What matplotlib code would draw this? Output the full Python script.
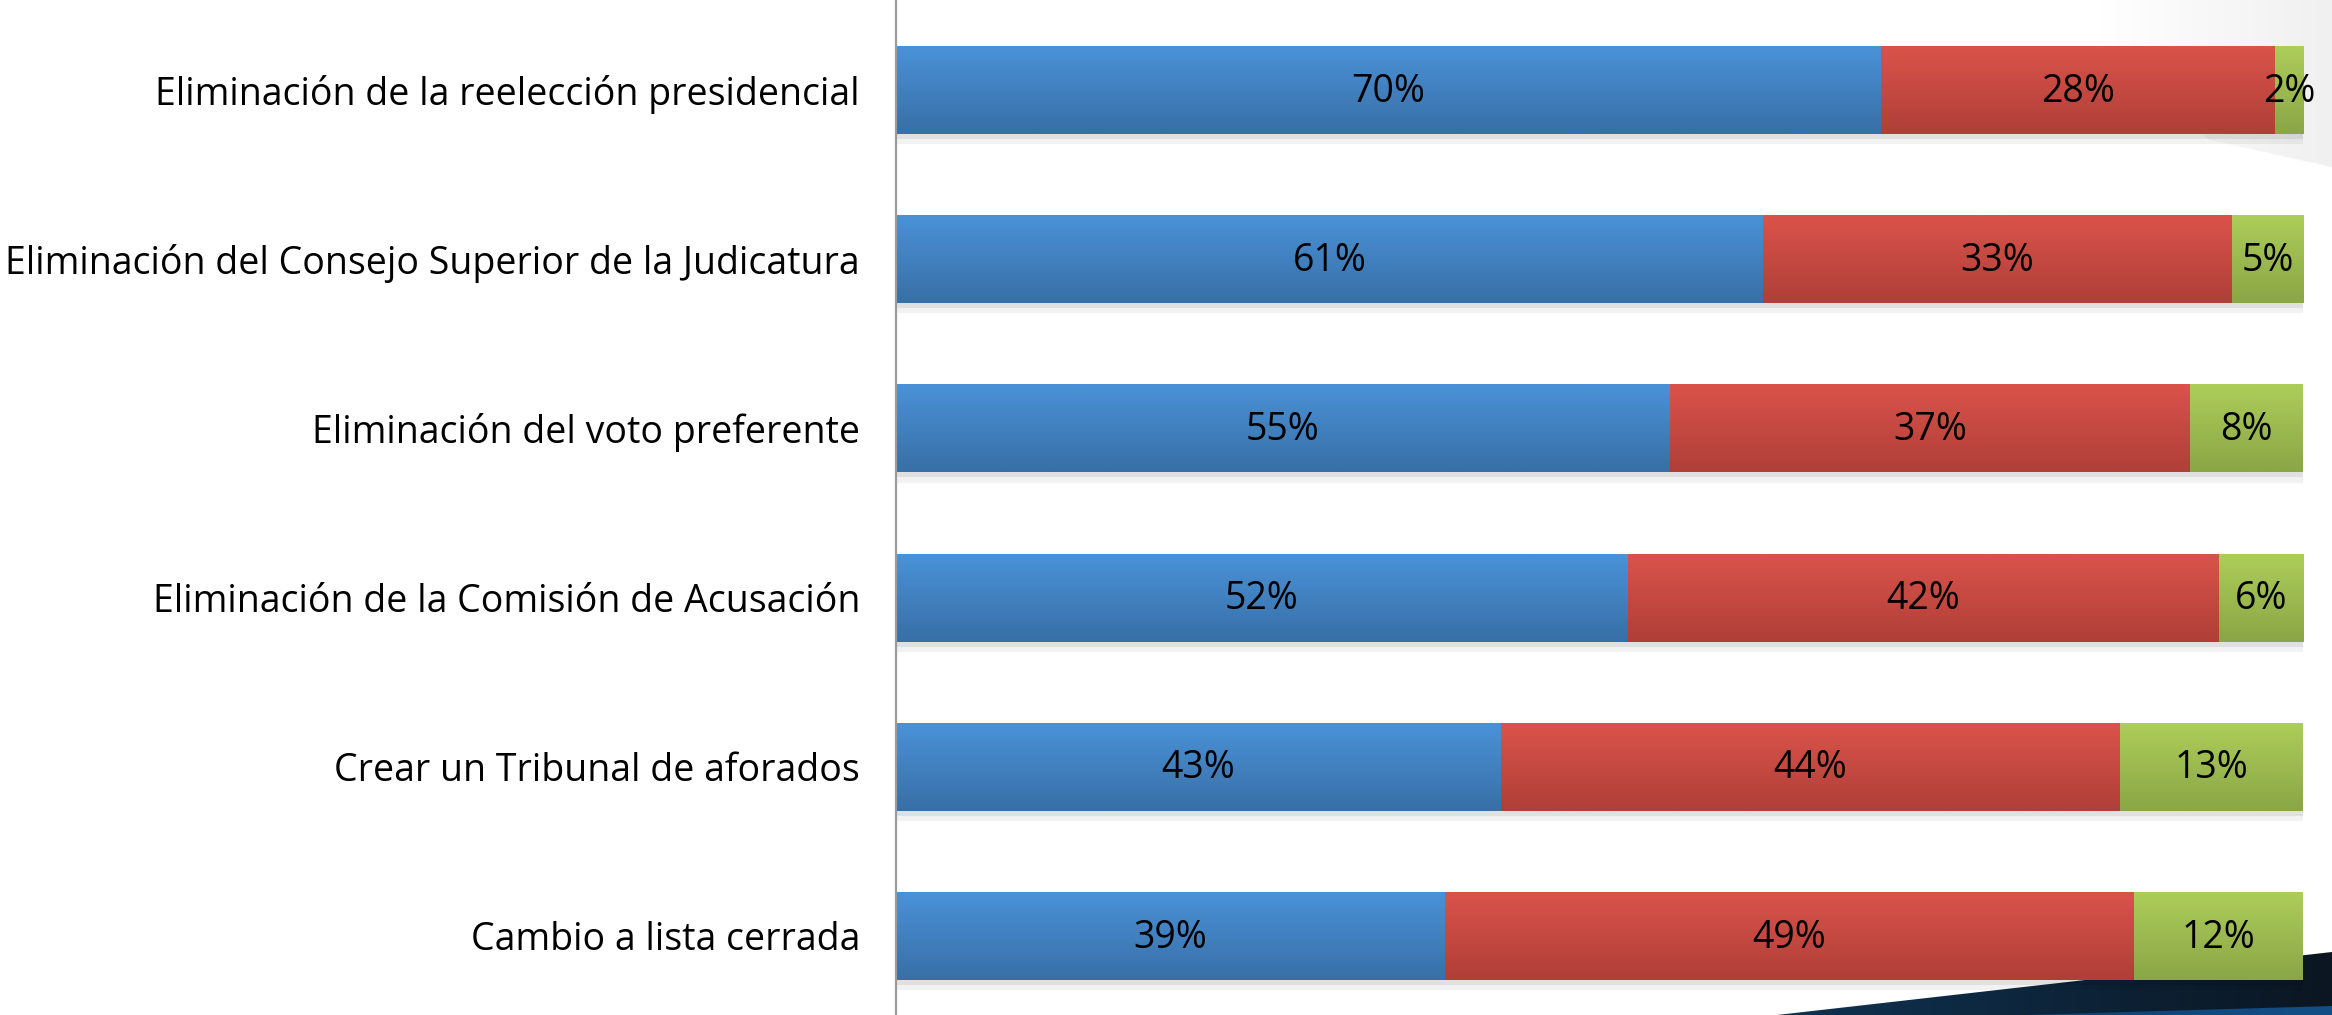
import matplotlib
matplotlib.use("Agg")
import matplotlib.pyplot as plt
import numpy as np
from matplotlib.patches import Polygon
from matplotlib.colors import to_rgb

plt.rcParams['font.family'] = ['Open Sans', 'DejaVu Sans']

categories = [
    "Eliminación de la reelección presidencial",
    "Eliminación del Consejo Superior de la Judicatura",
    "Eliminación del voto preferente",
    "Eliminación de la Comisión de Acusación",
    "Crear un Tribunal de aforados",
    "Cambio a lista cerrada",
]
favor = [70, 61, 55, 52, 43, 39]
contra = [28, 33, 37, 42, 44, 49]
nsnr = [2, 5, 8, 6, 13, 12]

series = [favor, contra, nsnr]
top_colors = ["#4A92D8", "#DA534A", "#ADCD59"]
bot_colors = ["#386FA6", "#AF3F38", "#8AA646"]

W, H = 2332, 1015
fig = plt.figure(figsize=(W / 100, H / 100), dpi=100)
fig.patch.set_facecolor("white")

# background decoration axes (pixel coordinates)
bg = fig.add_axes([0, 0, 1, 1], zorder=0)
bg.set_xlim(0, W)
bg.set_ylim(H, 0)
bg.axis("off")

def grad_poly(ax, pts, c_left, c_right, horizontal=True):
    poly = Polygon(pts, closed=True, facecolor="none", edgecolor="none")
    ax.add_patch(poly)
    xs = [p[0] for p in pts]
    ys = [p[1] for p in pts]
    a = np.array(to_rgb(c_left))
    b = np.array(to_rgb(c_right))
    t = np.linspace(0, 1, 128)
    g = a[None, :] * (1 - t[:, None]) + b[None, :] * t[:, None]
    img = g[None, :, :] if horizontal else g[:, None, :]
    im = ax.imshow(img, extent=(min(xs), max(xs), max(ys), min(ys)), origin="upper",
                   aspect="auto", interpolation="bilinear")
    im.set_clip_path(poly)

grad_poly(bg, [(2100, 0), (2332, 0), (2332, 167), (2210, 140), (2100, 60)],
          "#FFFFFF", "#F0F0F0")
grad_poly(bg, [(1777, 1015), (2332, 952), (2332, 1015)], "#0F3352", "#0B1622")
grad_poly(bg, [(2023, 1015), (2332, 1006), (2332, 1015)], "#0F4273", "#134F86")

ax = fig.add_axes([896 / W, 0, 1407 / W, 1], zorder=1)
ax.patch.set_alpha(0)
ax.set_xlim(0, 100)
ax.set_ylim(5.467, -0.532)

y = np.arange(len(categories))
totals = np.sum(np.array(series, dtype=float), axis=0)
bar_h = 0.52
left = np.zeros(len(categories))
for s, vals in enumerate(series):
    vals = np.array(vals, dtype=float)
    shares = vals / totals * 100
    bars = ax.barh(y, shares, left=left, height=bar_h, color=top_colors[s],
                   edgecolor="none", zorder=2)
    c1 = np.array(to_rgb(top_colors[s]))
    c2 = np.array(to_rgb(bot_colors[s]))
    t = np.linspace(0, 1, 64)[:, None]
    grad = (c1 * (1 - t) + c2 * t)[:, None, :]
    for b in bars:
        x0, yb = b.get_x(), b.get_y()
        w, h = b.get_width(), b.get_height()
        im = ax.imshow(grad, extent=(x0, x0 + w, yb + h, yb), origin="upper",
                       aspect="auto", zorder=3, interpolation="bilinear")
        im.set_clip_path(b)
        sh = plt.Rectangle((x0, yb + h), w, 0.03, facecolor="#000000", alpha=0.12,
                           edgecolor="none", zorder=1)
        ax.add_patch(sh)
        sh2 = plt.Rectangle((x0, yb + h + 0.03), w, 0.03, facecolor="#000000",
                            alpha=0.05, edgecolor="none", zorder=1)
        ax.add_patch(sh2)
    for i, v in enumerate(vals):
        ax.text(left[i] + shares[i] / 2, y[i] + 0.01, f"{int(v)}%", ha="center",
                va="center", fontsize=27, color="black", zorder=5)
    left += shares

ax.set_yticks(y)
ax.set_yticklabels(categories, fontsize=27)
ax.tick_params(axis="y", length=0, pad=26)
ax.set_xticks([])
for sp in ["top", "right", "bottom"]:
    ax.spines[sp].set_visible(False)
ax.spines["left"].set_color("#9A9A9A")
ax.spines["left"].set_linewidth(1.6)
ax.spines["left"].set_zorder(6)

fig.savefig("out.png", dpi=100)
